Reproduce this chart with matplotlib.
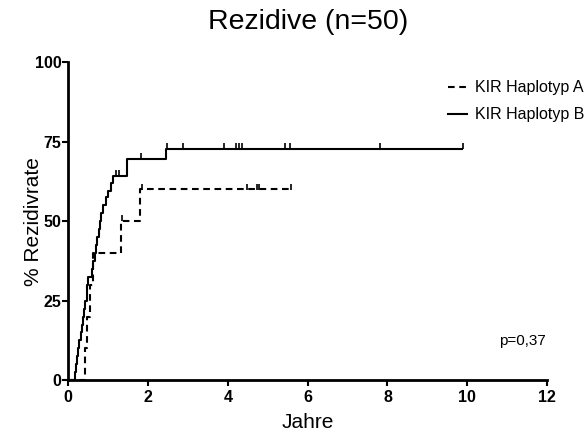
import matplotlib
matplotlib.use("Agg")
import matplotlib.pyplot as plt
from matplotlib.lines import Line2D

plt.rcParams['font.family'] = ['Liberation Sans', 'DejaVu Sans']

# Cumulative relapse rate (%) per group: event times (years) and levels after each step
a_times = [0.0, 0.42, 0.48, 0.55, 0.63, 1.32, 1.80]
a_rate = [0.0, 10.0, 20.0, 30.0, 40.0, 50.0, 60.0]
a_end = 5.59
a_censor_t = [1.35, 1.85, 4.47, 4.72, 4.79, 5.59]
a_censor_y = [50.0, 60.0, 60.0, 60.0, 60.0, 60.0]

b_times = [0.0, 0.15, 0.17, 0.20, 0.22, 0.25, 0.28, 0.31, 0.34, 0.37, 0.40, 0.43,
           0.46, 0.48, 0.50, 0.60, 0.63, 0.66, 0.69, 0.72, 0.76, 0.79, 0.82,
           0.86, 0.95, 1.00, 1.06, 1.13, 1.48, 2.45]
b_rate = [0.0, 0.0, 2.5, 5.0, 7.5, 10.0, 12.5, 15.0, 17.5, 20.0, 22.5, 25.0,
          27.5, 30.0, 32.5, 35.0, 37.5, 40.0, 42.5, 45.0, 47.5, 50.0, 52.5,
          55.0, 57.5, 59.5, 62.0, 64.2, 69.5, 72.6]
b_end = 9.89
b_censor_t = [1.20, 1.26, 1.82, 2.47, 2.88, 3.90, 4.20, 4.27, 4.35, 5.43, 5.56, 7.82, 9.89]
b_censor_y = [64.2, 64.2, 69.5, 72.6, 72.6, 72.6, 72.6, 72.6, 72.6, 72.6, 72.6, 72.6, 72.6]

x_ticks = [0, 2, 4, 6, 8, 10, 12]
y_ticks = [0, 25, 50, 75, 100]

fig = plt.figure(figsize=(5.86, 4.32), dpi=100)
ax = fig.add_axes([0.1165, 0.120, 0.817, 0.736])

DASH = (0, (3.2, 2.2))


def step_curve(ax, t, y, t_end, ct, cy, ls):
    xs = list(t) + [t_end]
    ys = list(y) + [y[-1]]
    ax.step(xs, ys, where='post', color='black', lw=1.5, ls=ls,
            dash_capstyle='butt', solid_capstyle='butt', clip_on=False)
    # censoring ticks sit just above the curve
    ax.plot(ct, [v + 0.9 for v in cy], ls='none', marker='|', color='black',
            ms=4, mew=1.2, clip_on=False)


step_curve(ax, a_times, a_rate, a_end, a_censor_t, a_censor_y, DASH)
step_curve(ax, b_times, b_rate, b_end, b_censor_t, b_censor_y, '-')

ax.set_xlim(0, 12)
ax.set_ylim(0, 100)
ax.set_xticks(x_ticks)
ax.set_yticks(y_ticks)
ax.tick_params(axis='both', direction='out', length=4, width=1.5, labelsize=11.5)
ax.tick_params(axis='x', pad=3)
ax.tick_params(axis='y', pad=1)
for lab in ax.get_xticklabels() + ax.get_yticklabels():
    lab.set_fontweight('bold')
for side in ['top', 'right']:
    ax.spines[side].set_visible(False)
for side in ['left', 'bottom']:
    ax.spines[side].set_linewidth(2)

ax.set_xlabel('Jahre', fontsize=15, labelpad=6)
ax.set_ylabel('% Rezidivrate', fontsize=15, labelpad=-6)
ax.set_title('Rezidive (n=50)', fontsize=20.5, pad=24)

handles = [Line2D([], [], color='black', lw=1.5, ls=DASH),
           Line2D([], [], color='black', lw=1.5, ls='-')]
ax.legend(handles, ['KIR Haplotyp A', 'KIR Haplotyp B'], loc='upper left',
          bbox_to_anchor=(0.78, 0.963), frameon=False, fontsize=11.5,
          handlelength=1.2, handletextpad=0.5, labelspacing=0.75, borderaxespad=0)

ax.text(11.39, 12.3, 'p=0,37', fontsize=11, ha='center', va='center')

fig.savefig('out.png', dpi=100)
